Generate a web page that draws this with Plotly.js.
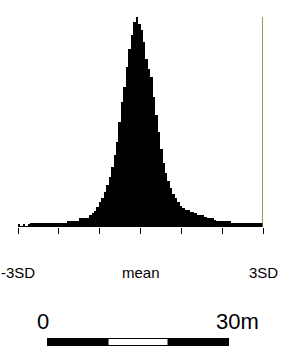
<!DOCTYPE html>
<html>
<head>
<meta charset="utf-8">
<script src="https://cdn.plot.ly/plotly-3.0.1.min.js"></script>
<style>html,body{margin:0;padding:0;background:#fff;}#chart{width:283px;height:350px;}</style>
</head>
<body>
<div id="chart"></div>
<script>
// Histogram of values in SD units, 100 bins from -3SD to +3SD
var binStart = -3;
var binWidth = 0.06;
var counts = [
  3, 1, 3, 1, 3, 4, 4, 4, 4, 4,
  4, 4, 4, 4, 4, 4, 4, 4, 4, 4,
  6, 6, 6, 6, 6, 9, 9, 9, 9, 12,
  14, 16, 20, 25, 29, 35, 42, 50, 60, 72,
  85, 105, 125, 140, 160, 178, 192, 205, 210, 203,
  197, 185, 168, 158, 150, 130, 112, 95, 78, 64,
  54, 46, 39, 33, 29, 25, 21, 19, 17, 17,
  15, 15, 14, 12, 12, 12, 10, 9, 9, 9,
  7, 6, 6, 6, 6, 6, 6, 4, 4, 4,
  4, 4, 4, 4, 4, 4, 4, 4, 4, 4
];
var tickVals = [-3, -2, -1, 0, 1, 2, 3];
var axisLabels = ["-3SD", "mean", "3SD"];
var axisLabelPos = [-3, 0, 3];
var scaleLabels = ["0", "30m"];
var markerLine = 3;

var centers = counts.map(function (c, i) { return binStart + binWidth * (i + 0.5); });

var trace = {
  type: 'bar',
  x: centers,
  y: counts,
  width: binWidth,
  marker: { color: '#000000', line: { width: 0 } },
  hoverinfo: 'skip'
};

var W = 283, H = 350, L = 18, R = 20, T = 17, B = 123;
var pw = W - L - R, ph = H - T - B;
function px(xp) { return (xp - L) / pw; }
function py(yp) { return (H - B - yp) / ph; }

var annotations = axisLabels.map(function (t, i) {
  return {
    text: t, x: axisLabelPos[i], xref: 'x', y: py(272), yref: 'paper',
    showarrow: false, xanchor: 'center', yanchor: 'middle',
    font: { family: 'Liberation Sans, Arial, sans-serif', size: 15, color: '#000' }
  };
});
annotations.push({
  text: scaleLabels[0], x: px(43), xref: 'paper', y: py(321), yref: 'paper',
  showarrow: false, xanchor: 'center', yanchor: 'middle',
  font: { family: 'Liberation Sans, Arial, sans-serif', size: 22, color: '#000' }
});
annotations.push({
  text: scaleLabels[1], x: px(214), xref: 'paper', y: py(321), yref: 'paper',
  showarrow: false, xanchor: 'left', yanchor: 'middle',
  font: { family: 'Liberation Sans, Arial, sans-serif', size: 22, color: '#000' }
});

var shapes = [
  { type: 'line', xref: 'x', x0: markerLine, x1: markerLine, yref: 'paper', y0: 0, y1: 1,
    line: { color: '#7d7d00', width: 1.5 } },
  { type: 'rect', xref: 'paper', yref: 'paper', x0: px(47), x1: px(108), y0: py(346), y1: py(338),
    fillcolor: '#000', line: { width: 0 } },
  { type: 'rect', xref: 'paper', yref: 'paper', x0: px(108), x1: px(168), y0: py(345.5), y1: py(338.5),
    fillcolor: '#fff', line: { color: '#000', width: 1 } },
  { type: 'rect', xref: 'paper', yref: 'paper', x0: px(168), x1: px(229), y0: py(346), y1: py(338),
    fillcolor: '#000', line: { width: 0 } }
];

var layout = {
  width: W, height: H,
  margin: { l: L, r: R, t: T, b: B, pad: 0 },
  paper_bgcolor: '#fff', plot_bgcolor: '#fff',
  showlegend: false,
  bargap: 0,
  xaxis: {
    range: [-3, 3], tickmode: 'array', tickvals: tickVals, ticks: 'outside',
    ticklen: 6, tickwidth: 1, tickcolor: '#000', showticklabels: false,
    showgrid: false, zeroline: false, showline: false, fixedrange: true
  },
  yaxis: {
    range: [0, 210], visible: false, showgrid: false, zeroline: false, fixedrange: true
  },
  annotations: annotations,
  shapes: shapes
};

Plotly.newPlot('chart', [trace], layout, { staticPlot: true, displayModeBar: false });
</script>
</body>
</html>
